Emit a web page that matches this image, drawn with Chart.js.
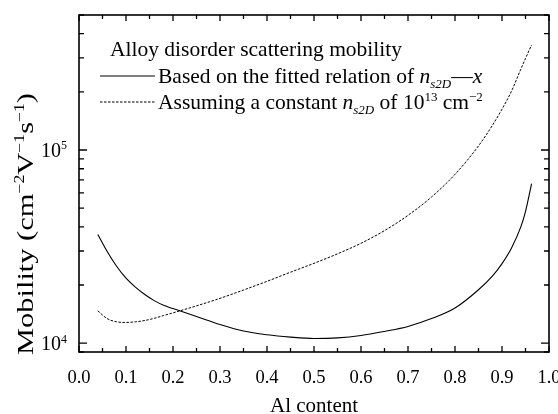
<!DOCTYPE html>
<html>
<head>
<meta charset="utf-8">
<script src="https://cdn.jsdelivr.net/npm/chart.js@4"></script>
<style>
  body { margin: 0; background: #fff; }
  #wrap { width: 558px; height: 414px; position: relative; }
</style>
</head>
<body>
<div id="wrap"><canvas id="mobChart"></canvas></div>
<script>
// Al content (x) where the curves were read
var alContent = [0.04, 0.06, 0.08, 0.10, 0.12, 0.14, 0.16, 0.18, 0.20, 0.25, 0.30, 0.35, 0.40, 0.45, 0.50,
                 0.55, 0.60, 0.65, 0.70, 0.75, 0.80, 0.85, 0.88, 0.90, 0.92, 0.94, 0.95, 0.963];

// based on the fitted relation of ns2D - x (solid)
var mobFitted = [36500, 29800, 25000, 21700, 19500, 17850, 16600, 15700, 15100, 13750, 12500, 11550, 11050, 10750, 10580,
                 10650, 10950, 11500, 12200, 13400, 15200, 18900, 22300, 25800, 31000, 40000, 48000, 67000];

// assuming a constant ns2D of 1e13 cm-2 (dashed)
var mobConstant = [14700, 13400, 12900, 12800, 12900, 13100, 13450, 13900, 14350, 15600, 17060, 18840, 20900, 23300, 25900,
                   29000, 32900, 38250, 45900, 57100, 74800, 105000, 134700, 162800, 201200, 262000, 298000, 350000];

var xTicks = [0.0, 0.1, 0.2, 0.3, 0.4, 0.5, 0.6, 0.7, 0.8, 0.9, 1.0];
var yDecades = [10000, 100000];

var SERIF = '"Liberation Serif", "Times New Roman", serif';

function toPoints(xs, ys) {
    var pts = [];
    for (var i = 0; i < xs.length; i++) {
        pts.push({ x: xs[i], y: ys[i] });
    }
    return pts;
}

// text with italic / sub / sup pieces
function fontFor(p, size) {
    var s = (p.sup || p.sub) ? Math.round(size * 0.6) : size;
    return (p.it ? 'italic ' : '') + s + 'px ' + SERIF;
}
function richWidth(ctx, parts, size) {
    var w = 0;
    parts.forEach(function (p) {
        ctx.font = fontFor(p, size);
        w += ctx.measureText(p.t).width;
    });
    return w;
}
function drawRich(ctx, parts, x, y, size, align) {
    var cx = x;
    if (align === 'center') cx = x - richWidth(ctx, parts, size) / 2;
    if (align === 'right') cx = x - richWidth(ctx, parts, size);
    ctx.textBaseline = 'alphabetic';
    ctx.textAlign = 'left';
    parts.forEach(function (p) {
        ctx.font = fontFor(p, size);
        var dy = p.sup ? -size * 0.38 : (p.sub ? size * 0.22 : 0);
        ctx.fillText(p.t, cx, y + dy);
        cx += ctx.measureText(p.t).width;
    });
}

var decorPlugin = {
    id: 'decor',
    afterDraw: function (chart) {
        var ctx = chart.ctx;
        var a = chart.chartArea;
        var xs = chart.scales.x;
        var ys = chart.scales.y;
        ctx.save();
        ctx.strokeStyle = '#000';
        ctx.fillStyle = '#000';

        // frame
        ctx.lineWidth = 1.6;
        ctx.strokeRect(a.left, a.top, a.right - a.left, a.bottom - a.top);

        // inward ticks, x
        ctx.lineWidth = 1.3;
        ctx.beginPath();
        for (var k = 0; k <= 20; k++) {
            var v = k * 0.05;
            var px = xs.getPixelForValue(v);
            var len = (k % 2 === 0) ? 6 : 4;
            ctx.moveTo(px, a.bottom); ctx.lineTo(px, a.bottom - len);
            ctx.moveTo(px, a.top); ctx.lineTo(px, a.top + len);
        }
        // inward ticks, y (log)
        for (var d = 3; d <= 5; d++) {
            for (var m = 1; m <= 9; m++) {
                var val = m * Math.pow(10, d);
                if (val < ys.min || val > ys.max) continue;
                var py = ys.getPixelForValue(val);
                var l = (m === 1) ? 8 : 5;
                ctx.moveTo(a.left, py); ctx.lineTo(a.left + l, py);
                ctx.moveTo(a.right, py); ctx.lineTo(a.right - l, py);
            }
        }
        ctx.stroke();

        // y tick labels 10^4, 10^5
        yDecades.forEach(function (v) {
            var py = ys.getPixelForValue(v);
            var e = Math.round(Math.log10(v));
            drawRich(ctx, [{ t: '10' }, { t: String(e), sup: true }], a.left - 12, py + 7, 20, 'right');
        });

        // axis titles
        drawRich(ctx, [{ t: 'Al content' }], (a.left + a.right) / 2, 412, 21, 'center');
        var yTitle = [{ t: 'Mobility (cm' }, { t: '\u22122', sup: true }, { t: 'V' }, { t: '\u22121', sup: true },
                      { t: 's' }, { t: '\u22121', sup: true }, { t: ')' }];
        var tw = richWidth(ctx, yTitle, 24);
        ctx.save();
        ctx.translate(33, 224);
        ctx.rotate(-Math.PI / 2);
        ctx.scale(262 / tw, 1);
        drawRich(ctx, yTitle, 0, 0, 24, 'center');
        ctx.restore();

        // legend block
        drawRich(ctx, [{ t: 'Alloy disorder scattering mobility' }], 110, 56, 21.5, 'left');
        var ds = chart.data.datasets;
        var rows = [
            { y: 83, parts: [{ t: 'Based on the fitted relation of ' }, { t: 'n', it: true }, { t: 's2D', it: true, sub: true },
                             { t: '\u2014' }, { t: 'x', it: true }] },
            { y: 109, parts: [{ t: 'Assuming a constant ' }, { t: 'n', it: true }, { t: 's2D', it: true, sub: true },
                              { t: ' of 10' }, { t: '13', sup: true }, { t: ' cm' }, { t: '\u22122', sup: true }] }
        ];
        rows.forEach(function (r, i) {
            ctx.save();
            ctx.lineWidth = ds[i].borderWidth;
            ctx.setLineDash(ds[i].borderDash || []);
            ctx.beginPath();
            ctx.moveTo(100, r.y - 7);
            ctx.lineTo(155, r.y - 7);
            ctx.stroke();
            ctx.restore();
            drawRich(ctx, r.parts, 158, r.y, 21.5, 'left');
        });
        ctx.restore();
    }
};

new Chart(document.getElementById('mobChart'), {
    type: 'line',
    data: {
        datasets: [
            {
                label: 'fitted',
                data: toPoints(alContent, mobFitted),
                borderColor: '#000',
                borderWidth: 1.1,
                pointRadius: 0,
                cubicInterpolationMode: 'monotone',
                fill: false
            },
            {
                label: 'constant',
                data: toPoints(alContent, mobConstant),
                borderColor: '#000',
                borderWidth: 1,
                borderDash: [2.5, 1.5],
                pointRadius: 0,
                cubicInterpolationMode: 'monotone',
                fill: false
            }
        ]
    },
    options: {
        responsive: true,
        maintainAspectRatio: false,
        animation: false,
        layout: { padding: { top: 15, right: 9, left: 0, bottom: 0 } },
        plugins: {
            legend: { display: false },
            tooltip: { enabled: false }
        },
        scales: {
            x: {
                type: 'linear',
                min: 0,
                max: 1,
                afterFit: function (s) { s.height = 62; s.paddingLeft = 0; s.paddingRight = 0; },
                afterBuildTicks: function (s) { s.ticks = xTicks.map(function (v) { return { value: v }; }); },
                grid: { display: false, drawTicks: false },
                border: { display: false },
                ticks: {
                    padding: 15,
                    color: '#000',
                    font: { family: SERIF, size: 18.5 },
                    callback: function (v) { return Number(v).toFixed(1); }
                }
            },
            y: {
                type: 'logarithmic',
                min: 9000,
                max: 500000,
                afterFit: function (s) { s.width = 79; s.paddingTop = 0; s.paddingBottom = 0; },
                grid: { display: false, drawTicks: false },
                border: { display: false },
                ticks: { display: false }
            }
        }
    },
    plugins: [decorPlugin]
});
</script>
</body>
</html>
